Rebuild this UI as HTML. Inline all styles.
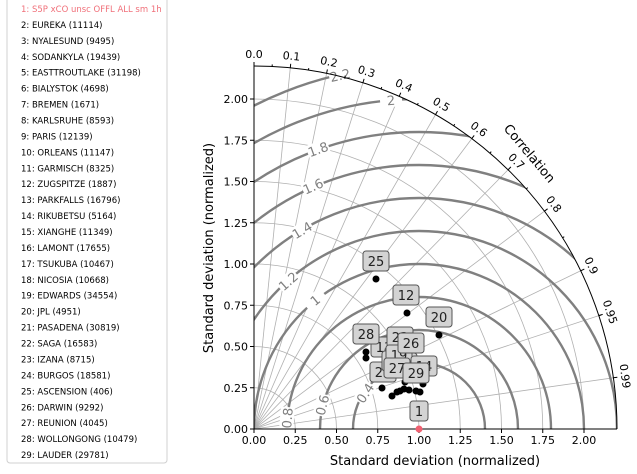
<!DOCTYPE html>
<html><head><meta charset="utf-8"><style>
html,body{margin:0;padding:0;background:#fff;width:637px;height:474px;overflow:hidden}
svg{display:block;overflow:hidden;font-family:"DejaVu Sans","Liberation Sans",sans-serif}
</style></head><body>
<svg id="s" width="637" height="474" viewBox="0 0 637 474" xmlns="http://www.w3.org/2000/svg">
<rect x="7" y="-4" width="160" height="467" rx="3" fill="#fff" stroke="#d0d0d0"/>
<g id="leg" font-size="8.5px" fill="#000"></g>
<g id="d"></g>
</svg>
<script>
const NS="http://www.w3.org/2000/svg";
function el(p,t,a,txt){const e=document.createElementNS(NS,t);for(const k in a)e.setAttribute(k,a[k]);if(txt!==undefined)e.textContent=txt;p.appendChild(e);return e;}
const leg=document.getElementById('leg');
const names=["1: S5P xCO unsc OFFL ALL sm 1h","2: EUREKA (11114)","3: NYALESUND (9495)","4: SODANKYLA (19439)","5: EASTTROUTLAKE (31198)","6: BIALYSTOK (4698)","7: BREMEN (1671)","8: KARLSRUHE (8593)","9: PARIS (12139)","10: ORLEANS (11147)","11: GARMISCH (8325)","12: ZUGSPITZE (1887)","13: PARKFALLS (16796)","14: RIKUBETSU (5164)","15: XIANGHE (11349)","16: LAMONT (17655)","17: TSUKUBA (10467)","18: NICOSIA (10668)","19: EDWARDS (34554)","20: JPL (4951)","21: PASADENA (30819)","22: SAGA (16583)","23: IZANA (8715)","24: BURGOS (18581)","25: ASCENSION (406)","26: DARWIN (9292)","27: REUNION (4045)","28: WOLLONGONG (10479)","29: LAUDER (29781)"];
names.forEach((n,i)=>el(leg,'text',{x:21,y:12+i*15.93,fill:i==0?'#f0707a':'#000'},n));
const d=document.getElementById('d');
const ox=254,oy=429,S=165,R=2.2*S;
function P(r,c){const a=Math.acos(c);return [ox+r*S*Math.cos(a),oy-r*S*Math.sin(a)];}
const defs=el(d,'defs',{});const cp=el(defs,'clipPath',{id:'cp'});
el(cp,'path',{d:`M${ox},${oy} L${ox+R},${oy} A${R},${R} 0 0 0 ${ox},${oy-R} Z`});
for(let v=0.25;v<2.2;v+=0.25){const r=v*S;el(d,'path',{d:`M${ox+r},${oy} A${r},${r} 0 0 0 ${ox},${oy-r}`,fill:'none',stroke:'#b0b0b0','stroke-width':0.8});}
const cors=[0.1,0.2,0.3,0.4,0.5,0.6,0.7,0.8,0.9,0.95,0.99];
cors.forEach(c=>{const p=P(2.2,c);el(d,'line',{x1:ox,y1:oy,x2:p[0],y2:p[1],stroke:'#b0b0b0','stroke-width':0.8});});
const g=el(d,'g',{'clip-path':'url(#cp)'});
const cx=ox+S;
for(let k=2;k<=11;k++){const r=k*0.2*S;el(g,'circle',{cx:cx,cy:oy,r:r,fill:'none',stroke:'#808080','stroke-width':2.4});}
const cl2=[["0.4",365,393],["0.6",322,405],["0.8",287,418],["1",315,300],["1.2",288,281],["1.4",302,230],["1.6",313,186],["1.8",318,149],["2",391,100],["2.2",340,75]];
cl2.forEach(([t,x,y])=>{const dx=x-cx,dy=y-oy;let ang=Math.atan2(dy,dx)*180/Math.PI+90;if(ang>90)ang-=180;if(ang<-90)ang+=180;
 el(d,'rect',{x:x-11,y:y-7,width:22,height:14,fill:'#fff',transform:`rotate(${ang} ${x} ${y})`});
 el(d,'text',{x:x,y:y+5,'font-size':'13px',fill:'#808080','text-anchor':'middle',transform:`rotate(${ang} ${x} ${y})`},t);});
el(d,'path',{d:`M${ox+R},${oy} A${R},${R} 0 0 0 ${ox},${oy-R}`,fill:'none',stroke:'#000','stroke-width':1});
el(d,'line',{x1:ox,y1:oy-R,x2:ox,y2:oy,stroke:'#000'});
el(d,'line',{x1:ox,y1:oy,x2:ox+R,y2:oy,stroke:'#000'});
const allc=[0,0.1,0.2,0.3,0.4,0.5,0.6,0.7,0.8,0.9,0.95,0.99];
allc.forEach(c=>{const a=Math.acos(c);const p1=P(2.2,c);const x2=ox+(R+4)*Math.cos(a),y2=oy-(R+4)*Math.sin(a);el(d,'line',{x1:p1[0],y1:p1[1],x2:x2,y2:y2,stroke:'#000'});
 const lx=ox+(R+12)*Math.cos(a),ly=oy-(R+12)*Math.sin(a);const rot=-(a*180/Math.PI)+90;
 el(d,'text',{x:lx,y:ly+4,'font-size':'11px','text-anchor':'middle',transform:`rotate(${c==0?0:rot} ${lx} ${ly})`},c.toFixed(c==0?1:(c>=0.95?2:1)));});
for(let c=0.05;c<1;c+=0.1){const a=Math.acos(c);el(d,'line',{x1:ox+R*Math.cos(a),y1:oy-R*Math.sin(a),x2:ox+(R+2)*Math.cos(a),y2:oy-(R+2)*Math.sin(a),stroke:'#000'});}
el(d,'text',{x:530,y:158,'font-size':'13px','text-anchor':'middle',transform:'rotate(50 530 153)'},'Correlation');
for(let i=0;i<=8;i++){const v=i*0.25,x=ox+v*S,y=oy-v*S;
 el(d,'line',{x1:x,y1:oy,x2:x,y2:oy+4,stroke:'#000'});el(d,'text',{x:x,y:oy+15,'font-size':'11px','text-anchor':'middle'},v.toFixed(2));
 el(d,'line',{x1:ox,y1:y,x2:ox-4,y2:y,stroke:'#000'});el(d,'text',{x:ox-6,y:y+4,'font-size':'11px','text-anchor':'end'},v.toFixed(2));}
el(d,'text',{x:435,y:465,'font-size':'13px','text-anchor':'middle'},'Standard deviation (normalized)');
el(d,'text',{x:213,y:248,'font-size':'13px','text-anchor':'middle',transform:'rotate(-90 213 248)'},'Standard deviation (normalized)');
const dots=[[376,279],[407,313],[439,335],[366,352],[366,358],[382,388],[392,396],[397,392],[400,391],[404,389],[409,390],[416,391],[420,392],[423,384],[424,372],[418,379],[405,382]];
dots.forEach(([x,y])=>el(d,'circle',{cx:x,cy:y,r:3.5,fill:'#000'}));
el(d,'circle',{cx:419,cy:429,r:3.5,fill:'#f06070'});
function box(t,x,y){const w=t.length>1?26:18;el(d,'rect',{x:x-w/2,y:y-10,width:w,height:20,rx:3,fill:'#d3d3d3',stroke:'#555','stroke-width':1});el(d,'text',{x:x,y:y+5,'font-size':'13px','text-anchor':'middle',fill:'#222'},t);}
[["13",384,347],["22",383,372],["24",398,357],["16",395,361],["21",404,363],["23",400,337],["19",399,355],["14",424,366],["27",397,368],["26",411,343],["29",416,373],["28",366,334],["25",376,261],["12",406,295],["20",439,317],["1",419,411]].forEach(b=>box(...b));
</script>
</body></html>
